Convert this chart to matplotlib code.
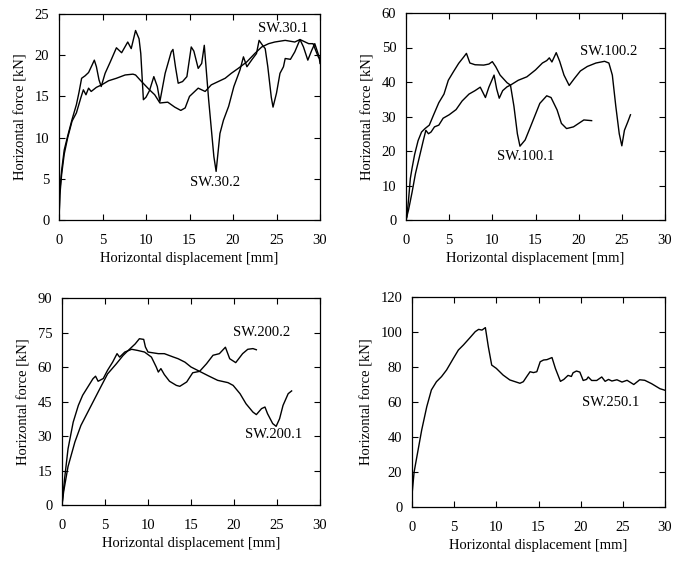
import matplotlib
matplotlib.use("Agg")
import matplotlib.pyplot as plt

plt.rcParams['font.family'] = ['Liberation Serif', 'DejaVu Serif']

# ---------------- data ----------------
sw30_1_x = [0, 0.1, 0.3, 0.6, 1.0, 1.5, 2.0, 2.5, 2.8, 3.1, 3.4, 3.7, 4.3, 4.9, 5.7, 6.6, 7.6, 8.5, 8.8, 9.4, 10.4, 11.0,
            11.6, 12.5, 13.3, 14.0, 14.5, 15.0, 16.0, 16.8, 17.5, 18.3, 19.1, 19.8, 20.6, 21.6, 22.5, 23.3, 24.1,
            24.8, 26.0, 27.1, 27.7, 28.7, 29.2, 29.8, 30.0]
sw30_1_y = [0, 3, 5.5, 8, 10, 12, 13, 14.8, 15.8, 15.2, 16.0, 15.6, 16.1, 16.4, 16.9, 17.2, 17.6, 17.7, 17.6, 16.9, 15.8, 15.2,
            14.2, 14.3, 13.7, 13.3, 13.6, 15.0, 16.0, 15.6, 16.4, 16.8, 17.2, 17.8, 18.4, 19.2, 20.2, 21.0, 21.4,
            21.6, 21.8, 21.6, 21.9, 21.4, 21.4, 19.8, 19.5]

sw30_2_x = [0, 0.1, 0.3, 0.6, 1.0, 1.5, 2.0, 2.3, 2.6, 3.0, 3.4, 3.8, 4.06, 4.3, 4.6, 4.85, 5.3, 5.9, 6.6, 7.2,
            7.9, 8.3, 8.8, 9.2, 9.4, 9.7, 10.0, 10.4, 10.9, 11.3, 11.6, 12.2, 12.9, 13.1, 13.4, 13.7, 14.2, 14.7,
            15.2, 15.5, 16.0, 16.4, 16.7, 17.2, 17.8, 18.06, 18.5, 18.9, 19.5, 20.1, 20.8, 21.2, 21.6, 22.2, 22.7,
            23.0, 23.4, 23.7, 24.0, 24.4, 24.6, 25.0, 25.4, 25.8, 26.0, 26.6, 27.1, 27.7, 28.1, 28.6, 29.05, 29.4,
            29.9, 30.0]
sw30_2_y = [0, 3.5, 6, 8.5, 10.2, 12.2, 14, 15.5, 17.2, 17.5, 17.9, 18.8, 19.4, 18.6, 17.0, 16.2, 17.8, 19.2, 20.9,
            20.3, 21.6, 20.8, 23.0, 22.0, 20.2, 14.6, 14.9, 15.7, 17.4, 16.2, 14.4, 17.8, 20.4, 20.7, 18.5, 16.6,
            16.8, 17.4, 21.0, 20.5, 18.4, 19.0, 21.2, 14.6, 7.7, 5.9, 10.5, 12.1, 13.8, 16.2, 18.2, 19.8, 18.6,
            19.5, 20.2, 21.8, 21.2, 20.8, 18.6, 14.9, 13.7, 15.4, 17.8, 18.6, 19.6, 19.5, 20.4, 21.9, 21.0, 19.4,
            20.6, 21.4, 19.8, 19.0]

sw100_1_x = [0, 0.1, 0.3, 0.5, 0.7, 1.0, 1.4, 1.8, 2.2, 2.7, 3.2, 3.8, 4.4, 4.9, 5.5, 6.1, 6.7, 7.0, 7.4, 8.0,
             9.0, 9.6, 10.0, 10.4, 10.9, 11.7, 12.1, 12.5, 12.9, 13.2, 13.8, 14.4, 15.5, 16.3, 16.8, 17.5, 18.0,
             18.6, 19.4, 20.6, 21.5]
sw100_1_y = [0, 1, 6, 12, 15, 19, 23, 25.5, 26.5, 27.5, 30.5, 34, 36.5, 40.5, 43, 45.4, 47.3, 48.3, 45.5, 45,
             44.9, 45.2, 45.9, 44.4, 42, 39.8, 39.1, 33, 25, 21.4, 23.2, 26.9, 33.8, 36, 35.5, 31.9, 28, 26.5, 27,
             29, 28.8]

sw100_2_x = [0, 0.3, 0.7, 1.1, 1.65, 2.0, 2.3, 2.6, 2.9, 3.3, 3.8, 4.3, 5.0, 5.8, 6.5, 7.3, 8.0, 8.6, 8.9, 9.2,
             9.6, 10.2, 10.5, 10.8, 11.2, 11.7, 12.1, 13.0, 14.0, 15.0, 15.8, 16.3, 16.6, 16.9, 17.4, 17.8, 18.3,
             18.9, 19.5, 20.2, 21.0, 22.0, 23.0, 23.5, 23.9, 24.3, 24.7, 25.0, 25.3, 25.7, 26.0]
sw100_2_y = [0, 3, 8, 13.5, 19.3, 23, 26, 25, 25.5, 27, 27.5, 29.5, 30.5, 32, 34.5, 36.5, 37.5, 38.5, 37, 35.5,
             38.5, 42, 38, 35.3, 37.5, 38.6, 39.1, 40.5, 41.5, 43.5, 45.5, 46.2, 47, 45.8, 48.5, 46, 42, 39, 41,
             43.2, 44.5, 45.5, 46, 45.5, 42, 33, 25, 21.5, 26, 28.5, 30.5]

sw200_1_x = [0, 0.2, 0.7, 1.5, 2.2, 3.0, 3.8, 4.6, 5.3, 6.3, 7.1, 7.7, 8.5, 9.0, 9.5, 9.7, 10.0, 11.2, 11.9, 12.9,
             13.5, 14.3, 15.0, 16.0, 17.0, 18.1, 19.3, 19.9, 20.7, 21.4, 22.2, 22.6, 23.2, 23.6, 23.9, 24.5, 24.9,
             25.3, 25.7, 26.3, 26.7]
sw200_1_y = [0, 6, 16.7, 27.4, 34.6, 40.4, 46.2, 52, 57, 61.3, 65, 67.2, 70, 72.3, 72, 68.7, 66.5, 65.8, 65.8,
             64.4, 63.6, 62.1, 60, 58.1, 56.2, 54.2, 53.2, 52, 48.4, 44, 40.4, 39.3, 41.9, 42.6, 39.7, 35.4, 34.2,
             37.5, 43.3, 48.4, 49.6]

sw200_2_x = [0, 0.3, 0.7, 1.3, 1.9, 2.4, 3.0, 3.6, 3.9, 4.2, 4.8, 5.3, 5.9, 6.4, 6.7, 7.3, 8.1, 8.8, 9.6, 10.4,
             10.96, 11.2, 11.5, 11.9, 12.5, 13.3, 13.7, 14.5, 15.2, 16.0, 16.8, 17.56, 18.3, 19.0, 19.5, 20.2,
             21.0, 21.6, 22.2, 22.6]
sw200_2_y = [0, 11.4, 24.4, 36, 43.3, 47.7, 51.3, 54.9, 56, 53.8, 55, 58.6, 62.2, 65.8, 64.3, 66.5, 67.7, 67.2,
             66.5, 64.3, 60, 57.8, 59.3, 56.7, 53.8, 52, 51.6, 53.5, 57.5, 58.1, 61.4, 65.1, 65.8, 68.6, 63.6,
             61.9, 65.8, 67.7, 68, 67.5]

sw250_1_x = [0, 0.25, 0.55, 1.15, 1.75, 2.3, 2.9, 3.5, 4.1, 4.9, 5.5, 6.1, 6.9, 7.5, 7.9, 8.3, 8.7, 9.05, 9.45,
             10.0, 10.8, 11.6, 12.8, 13.2, 13.6, 14.0, 14.4, 14.8, 15.2, 15.6, 16.0, 16.6, 17.0, 17.6, 18.0, 18.5,
             18.9, 19.1, 19.5, 19.9, 20.3, 20.7, 20.9, 21.3, 21.9, 22.5, 22.9, 23.3, 23.7, 24.3, 24.9, 25.5, 26.3,
             27.0, 27.6, 28.4, 29.4, 30.0]
sw250_1_y = [7, 20, 28, 44, 57.3, 66.9, 71.6, 74.5, 78.3, 84.9, 89.7, 92.6, 96.9, 100.2, 101.5, 101.1, 102.5,
             91.6, 81.1, 79.2, 75.4, 72.6, 70.7, 71.6, 74.5, 77.3, 76.8, 77.3, 83, 84, 84.2, 85.4, 79.2, 71.8,
             72.9, 75.2, 74.6, 76.7, 77.7, 77.1, 72.3, 72.9, 74.3, 72.3, 72.3, 74.3, 71.8, 72.9, 72.0, 72.7, 71.4,
             72.4, 70, 72.7, 72.4, 70.5, 67.6, 66.7]

x_ticks = [0, 5, 10, 15, 20, 25, 30]
y_ticks_30 = [0, 5, 10, 15, 20, 25]
y_ticks_100 = [0, 10, 20, 30, 40, 50, 60]
y_ticks_200 = [0, 15, 30, 45, 60, 75, 90]
y_ticks_250 = [0, 20, 40, 60, 80, 100, 120]

xlabel = "Horizontal displacement [mm]"
ylabel = "Horizontal force [kN]"

# ---------------- figure ----------------
W, H = 683, 562
fig = plt.figure(figsize=(W / 100, H / 100), dpi=100)


def make_axes(l, r, t, b):
    return fig.add_axes([l / W, 1 - b / H, (r - l) / W, (b - t) / H])


panels = [
    (make_axes(59, 320, 14, 220), y_ticks_30,
     [(sw30_1_x, sw30_1_y), (sw30_2_x, sw30_2_y)],
     [("SW.30.1", 22.9, 23.3), ("SW.30.2", 15.1, 4.6)]),
    (make_axes(406, 665, 13, 220), y_ticks_100,
     [(sw100_1_x, sw100_1_y), (sw100_2_x, sw100_2_y)],
     [("SW.100.2", 20.1, 48.8), ("SW.100.1", 10.5, 18.5)]),
    (make_axes(62, 320, 298, 505), y_ticks_200,
     [(sw200_1_x, sw200_1_y), (sw200_2_x, sw200_2_y)],
     [("SW.200.2", 19.9, 74.9), ("SW.200.1", 21.3, 30.7)]),
    (make_axes(412, 665, 297, 507), y_ticks_250,
     [(sw250_1_x, sw250_1_y)],
     [("SW.250.1", 20.2, 60.0)]),
]

for ax, yt, series, labels in panels:
    for xs, ys in series:
        ax.plot(xs, ys, color='black', lw=1.0)
    ax.set_xlim(0, 30)
    ax.set_ylim(yt[0], yt[-1])
    ax.set_xticks(x_ticks)
    ax.set_yticks(yt)
    ax.tick_params(direction='in', top=True, right=True, length=4, width=0.8,
                   labelsize=10.5)
    ax.tick_params(axis='x', pad=10)
    ax.tick_params(axis='y', pad=7)
    for s in ax.spines.values():
        s.set_linewidth(0.9)
    ax.set_xlabel(xlabel, fontsize=10.5, labelpad=4)
    ax.set_ylabel(ylabel, fontsize=10.5, labelpad=5)
    for txt, tx, ty in labels:
        ax.text(tx, ty, txt, fontsize=10.5, ha='left', va='center')

fig.savefig("out.png", dpi=100)
